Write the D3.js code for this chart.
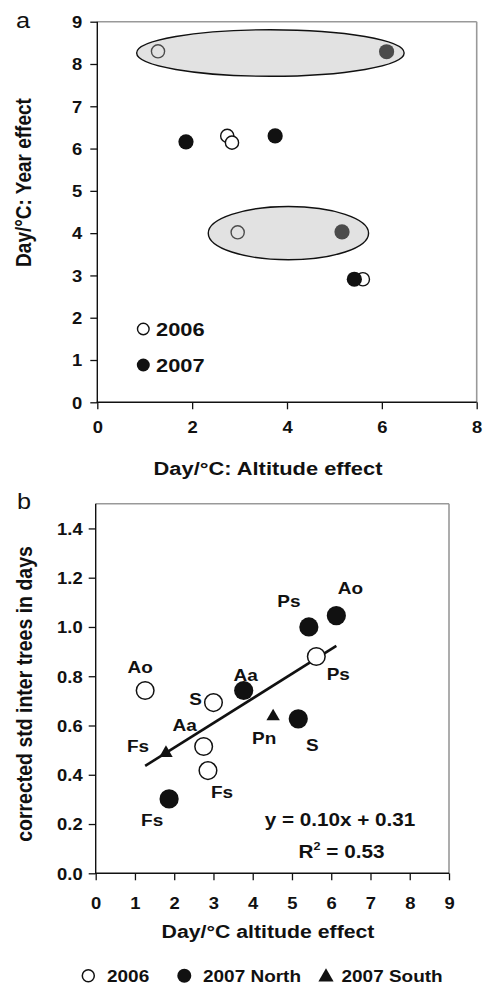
<!DOCTYPE html>
<html>
<head>
<meta charset="utf-8">
<script src="https://cdn.jsdelivr.net/npm/d3@7"></script>
<style>
  body { margin: 0; background: #fff; }
  svg { display: block; }
  text { font-family: "Liberation Sans", Arial, sans-serif; font-weight: bold; fill: #111; }
</style>
</head>
<body>
<svg id="chart" width="483" height="985"></svg>
<script>
// ---- panel a: year effect vs altitude effect (Day/°C)
const altitude2006 = [1.28, 2.74, 2.84, 2.96, 5.60];
const yearEff2006  = [8.30, 6.30, 6.14, 4.02, 2.91];
const altitude2007 = [6.10, 1.87, 3.75, 5.16, 5.42];
const yearEff2007  = [8.29, 6.16, 6.30, 4.03, 2.91];
// shaded groups (centre / half-width in data units)
const groupCx = [3.65, 4.03];
const groupCy = [8.26, 4.00];
const groupRx = [2.82, 1.69];
const groupRy = [0.55, 0.63];
const ticksAx = [0, 2, 4, 6, 8];
const ticksAy = [0, 1, 2, 3, 4, 5, 6, 7, 8, 9];
const legendA = ["2006", "2007"];

// ---- panel b: corrected std vs altitude effect
const species2006 = ["Ao", "S", "Aa", "Fs", "Ps"];
const alt2006     = [1.26, 3.00, 2.75, 2.86, 5.62];
const std2006     = [0.742, 0.693, 0.515, 0.417, 0.880];
const speciesNorth = ["Aa", "Ps", "Ao", "S", "Fs"];
const altNorth     = [3.77, 5.43, 6.13, 5.16, 1.87];
const stdNorth     = [0.742, 1.000, 1.046, 0.627, 0.302];
const speciesSouth = ["Pn", "Fs"];
const altSouth     = [4.52, 1.79];
const stdSouth     = [0.637, 0.488];
const fitSlope = 0.10, fitIntercept = 0.31, fitR2 = 0.53;
const ticksBx = [0, 1, 2, 3, 4, 5, 6, 7, 8, 9];
const ticksBy = [0, 0.2, 0.4, 0.6, 0.8, 1.0, 1.2, 1.4];
const legendB = ["2006", "2007 North", "2007 South"];

const SX = 1.15; // the source figure is slightly stretched horizontally
const svg = d3.select("#chart");

function addText(g, x, y, str, size, anchor, rot) {
  return g.append("text")
    .attr("transform", `translate(${x},${y}) scale(${SX},1)` + (rot ? ` rotate(${rot})` : ""))
    .attr("text-anchor", anchor || "start")
    .style("font-size", size + "px")
    .text(str);
}

function styleAxis(sel, left, off, size) {
  sel.select(".domain").remove();
  sel.selectAll(".tick line").attr("stroke", "#111").attr("stroke-width", 1.3);
  sel.selectAll(".tick text")
    .attr("x", 0).attr("y", 0)
    .attr("dy", left ? "0.36em" : 0)
    .attr("fill", "#111")
    .style("font-size", size + "px")
    .attr("transform", left ? `translate(${off},0) scale(${SX},1)` : `translate(0,${off}) scale(${SX},1)`);
}

function frame(g, x, y) {
  const [x0, x1] = x.range(), [y0, y1] = y.range();
  g.append("line").attr("x1", x0).attr("x2", x1).attr("y1", y1).attr("y2", y1)
    .attr("stroke", "#999").attr("stroke-width", 1.6);
  g.append("line").attr("x1", x1).attr("x2", x1).attr("y1", y1).attr("y2", y0)
    .attr("stroke", "#999").attr("stroke-width", 1.6);
  g.append("line").attr("x1", x0).attr("x2", x0).attr("y1", y1).attr("y2", y0 + 0.6)
    .attr("stroke", "#111").attr("stroke-width", 1.4);
  g.append("line").attr("x1", x0 - 0.6).attr("x2", x1).attr("y1", y0).attr("y2", y0)
    .attr("stroke", "#111").attr("stroke-width", 1.4);
}

// ================= panel a =================
const xA = d3.scaleLinear().domain([0, 8]).range([97.3, 476.7]);
const yA = d3.scaleLinear().domain([0, 9]).range([402.3, 21.7]);
const gA = svg.append("g");

frame(gA, xA, yA);
gA.append("g").attr("transform", `translate(${xA(0)},0)`)
  .call(d3.axisLeft(yA).tickValues(ticksAy).tickSize(7).tickFormat(d3.format("d")))
  .call(s => styleAxis(s, true, -15, 16));
gA.append("g").attr("transform", `translate(0,${yA(0)})`)
  .call(d3.axisBottom(xA).tickValues(ticksAx).tickSize(7).tickFormat(d3.format("d")))
  .call(s => styleAxis(s, false, 31, 16));

gA.selectAll(".p06").data(d3.range(altitude2006.length)).enter().append("circle")
  .attr("cx", i => xA(altitude2006[i])).attr("cy", i => yA(yearEff2006[i]))
  .attr("r", 6.6).attr("fill", "#fff").attr("stroke", "#111").attr("stroke-width", 1.4);
gA.selectAll(".p07").data(d3.range(altitude2007.length)).enter().append("circle")
  .attr("cx", i => xA(altitude2007[i])).attr("cy", i => yA(yearEff2007[i]))
  .attr("r", 7.6).attr("fill", "#111");

// translucent grey groups over the points (white -> light grey, black -> dark grey)
gA.selectAll(".grp").data(d3.range(groupCx.length)).enter().append("ellipse")
  .attr("cx", i => xA(groupCx[i])).attr("cy", i => yA(groupCy[i]))
  .attr("rx", i => xA(groupRx[i]) - xA(0)).attr("ry", i => yA(0) - yA(groupRy[i]))
  .attr("fill", "rgb(175,175,175)").attr("fill-opacity", 0.37)
  .attr("stroke", "#111").attr("stroke-width", 1.4);

// legend a
gA.append("circle").attr("cx", 143.3).attr("cy", 329).attr("r", 5.8)
  .attr("fill", "#fff").attr("stroke", "#111").attr("stroke-width", 1.4);
gA.append("circle").attr("cx", 143.3).attr("cy", 365).attr("r", 6.5).attr("fill", "#111");
addText(gA, 156, 336, legendA[0], 19);
addText(gA, 156, 372, legendA[1], 19);

addText(gA, 16, 28, "a", 22).style("font-weight", "normal");
addText(gA, 31, 182.5, "Day/°C: Year effect", 19, "middle", -90);
addText(gA, 268, 475, "Day/°C: Altitude effect", 19, "middle");

// ================= panel b =================
const xB = d3.scaleLinear().domain([0, 9]).range([95.7, 449]);
const yB = d3.scaleLinear().domain([0, 1.5]).range([873.3, 503.8]);
const gB = svg.append("g");

frame(gB, xB, yB);
gB.append("g").attr("transform", `translate(${xB(0)},0)`)
  .call(d3.axisLeft(yB).tickValues(ticksBy).tickSize(7).tickFormat(d3.format(".1f")))
  .call(s => styleAxis(s, true, -13, 16));
gB.append("g").attr("transform", `translate(0,${yB(0)})`)
  .call(d3.axisBottom(xB).tickValues(ticksBx).tickSize(7).tickFormat(d3.format("d")))
  .call(s => styleAxis(s, false, 36, 16));

// regression line over the range of the points
const allAlt = alt2006.concat(altNorth, altSouth);
const [fx0, fx1] = d3.extent(allAlt);
gB.append("line")
  .attr("x1", xB(fx0)).attr("y1", yB(fitSlope * fx0 + fitIntercept))
  .attr("x2", xB(fx1)).attr("y2", yB(fitSlope * fx1 + fitIntercept))
  .attr("stroke", "#111").attr("stroke-width", 2.6);

gB.selectAll(".b06").data(d3.range(alt2006.length)).enter().append("circle")
  .attr("cx", i => xB(alt2006[i])).attr("cy", i => yB(std2006[i]))
  .attr("r", 8.8).attr("fill", "#fff").attr("stroke", "#111").attr("stroke-width", 1.5);
gB.selectAll(".bN").data(d3.range(altNorth.length)).enter().append("circle")
  .attr("cx", i => xB(altNorth[i])).attr("cy", i => yB(stdNorth[i]))
  .attr("r", 9.6).attr("fill", "#111");
const tri = d3.symbol().type(d3.symbolTriangle).size(78);
gB.selectAll(".bS").data(d3.range(altSouth.length)).enter().append("path")
  .attr("d", tri)
  .attr("transform", i => `translate(${xB(altSouth[i])},${yB(stdSouth[i])})`)
  .attr("fill", "#111");

// species labels, offsets (px) from their point
const off2006  = [[-5, -24], [-18, -4], [-19, -21], [14, 21], [22, 17]];
const offNorth = [[2, -16], [-20, -26], [14, -28], [14, 26], [-17, 21]];
const offSouth = [[-9, 22], [-28, -7]];
[[species2006, alt2006, std2006, off2006],
 [speciesNorth, altNorth, stdNorth, offNorth],
 [speciesSouth, altSouth, stdSouth, offSouth]].forEach(([names, xs, ys, offs]) => {
  names.forEach((n, i) => {
    addText(gB, xB(xs[i]) + offs[i][0], yB(ys[i]) + offs[i][1] + 6, n, 16.5, "middle");
  });
});

const f2 = d3.format(".2f");
addText(gB, 340, 825.5, `y = ${f2(fitSlope)}x + ${f2(fitIntercept)}`, 18, "middle");
const r2 = addText(gB, 341.5, 858, "", 18, "middle");
r2.append("tspan").text("R");
r2.append("tspan").attr("dy", -8).style("font-size", "11px").text("2");
r2.append("tspan").attr("dy", 8).text(" = " + f2(fitR2));

addText(gB, 17, 509, "b", 22).style("font-weight", "normal");
addText(gB, 31.5, 694, "corrected std inter trees in days", 19.5, "middle", -90);
addText(gB, 268, 938, "Day/°C altitude effect", 18.5, "middle");

// legend b
gB.append("circle").attr("cx", 88.3).attr("cy", 975.7).attr("r", 6)
  .attr("fill", "#fff").attr("stroke", "#111").attr("stroke-width", 1.5);
addText(gB, 107, 981.7, legendB[0], 16.5);
gB.append("circle").attr("cx", 184.3).attr("cy", 975.7).attr("r", 7).attr("fill", "#111");
addText(gB, 203, 981.7, legendB[1], 16.5);
gB.append("path").attr("d", d3.symbol().type(d3.symbolTriangle).size(100))
  .attr("transform", "translate(326,977)").attr("fill", "#111");
addText(gB, 341.5, 981.7, legendB[2], 16.5);
</script>
</body>
</html>
